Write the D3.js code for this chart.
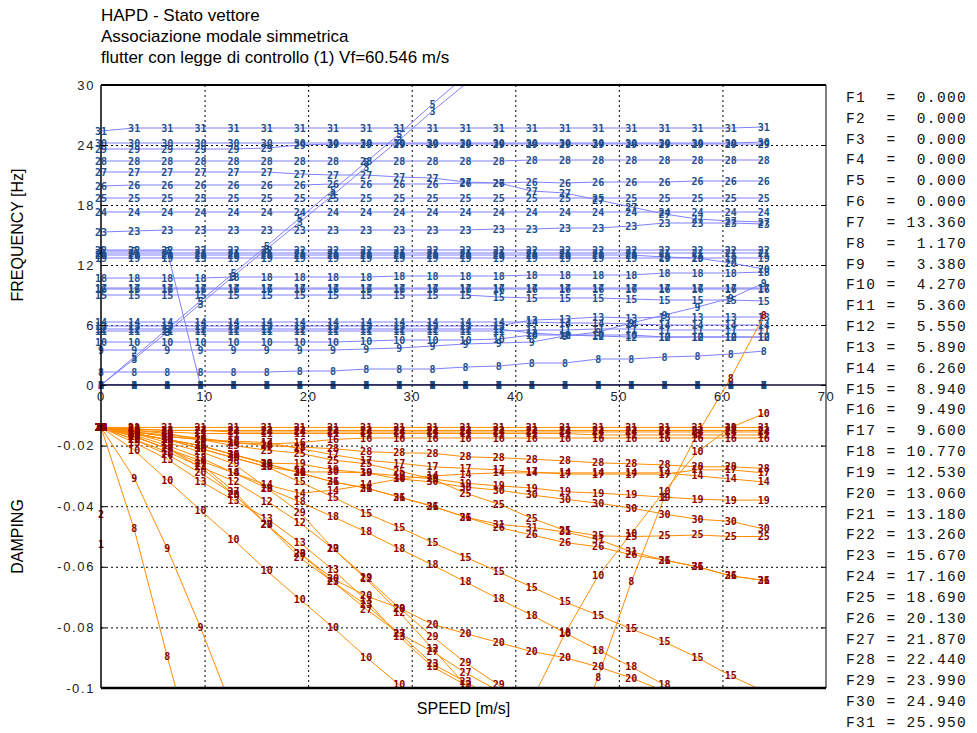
<!DOCTYPE html>
<html>
<head>
<meta charset="utf-8">
<script src="https://cdn.jsdelivr.net/npm/d3@7"></script>
<style>
  body { margin: 0; background: #fff; }
  svg { display: block; }
</style>
</head>
<body>
<svg id="chart" width="977" height="733"></svg>
<script>
// velocità (m/s)
const speeds = [0, 3.2, 6.4, 9.6, 12.8, 16, 19.2, 22.4, 25.6, 28.8, 32, 35.2, 38.4, 41.6, 44.8, 48, 51.2, 54.4, 57.6, 60.8, 64];

// FREQUENZE [Hz] per modo
const f01 = [0,0,0,0,0,0,0,0,0,0,0,0,0,0,0,0,0,0,0,0,0];
const f02 = [0,0,0,0,0,0,0,0,0,0,0,0,0,0,0,0,0,0,0,0,0];
const f03 = [0, 2.6, 5.3, 8.1, 10.9, 13.6, 16.3, 19.0, 21.8, 24.5, 27.4, 30.1, 32.8];
const f04 = [0,0,0,0,0,0,0,0,0,0,0,0,0,0,0,0,0,0,0,0,0];
const f05 = [0, 2.8, 5.6, 8.4, 11.2, 13.9, 16.7, 19.5, 22.3, 25.1, 28.1, 30.9];
const f06 = [0,0,0,0,0,0,0,0,0,0,0,0,0,0,0,0,0,0,0,0,0];
const f07 = [13.4, 13.4, 13.4, 0,0,0,0,0,0,0,0,0,0,0,0,0,0,0,0,0,0];
const f08 = [1.3, 1.3, 1.3, 1.3, 1.3, 1.3, 1.4, 1.4, 1.6, 1.6, 1.6, 1.8, 1.9, 2.2, 2.2, 2.6, 2.6, 2.8, 2.9, 3.1, 3.4];
const f09 = [3.5, 3.5, 3.5, 3.5, 3.5, 3.5, 3.5, 3.5, 3.6, 3.7, 3.9, 4.1, 4.2, 4.3, 4.9, 5.3, 6.2, 7.0, 7.8, 8.7, 10.2];
const f10 = [4.3, 4.3, 4.3, 4.3, 4.3, 4.3, 4.3, 4.3, 4.4, 4.5, 4.5, 4.5, 4.6, 5.0, 5.0, 5.0, 5.0, 4.8, 4.8, 4.8, 4.8];
const f11 = [5.4, 5.4, 5.4, 5.4, 5.4, 5.4, 5.4, 5.4, 5.4, 5.4, 5.4, 5.4, 5.4, 5.5, 5.5, 5.6, 5.6, 5.5, 5.5, 5.5, 5.5];
const f12 = [5.6, 5.6, 5.6, 5.6, 5.6, 5.6, 5.6, 5.6, 5.6, 5.6, 5.6, 5.6, 5.6, 5.2, 5.0, 4.9, 4.8, 4.8, 4.8, 4.8, 4.8];
const f13 = [5.9, 5.9, 5.9, 5.9, 5.9, 5.9, 5.9, 5.9, 5.9, 5.9, 5.9, 5.9, 5.9, 6.5, 6.6, 6.8, 6.7, 6.8, 6.8, 6.8, 6.8];
const f14 = [6.3, 6.3, 6.3, 6.3, 6.3, 6.3, 6.3, 6.3, 6.3, 6.3, 6.3, 6.3, 6.3, 6.3, 6.2, 6.2, 6.1, 6.0, 6.0, 6.0, 6.0];
const f15 = [9.0, 9.0, 9.0, 9.0, 9.0, 9.0, 9.0, 9.0, 9.0, 9.0, 9.0, 9.0, 8.8, 8.7, 8.7, 8.7, 8.6, 8.5, 8.5, 8.5, 8.4];
const f16 = [9.6, 9.6, 9.6, 9.6, 9.6, 9.6, 9.6, 9.6, 9.6, 9.6, 9.6, 9.6, 9.6, 9.6, 9.6, 9.6, 9.6, 9.6, 9.6, 9.6, 9.6];
const f17 = [9.7, 9.7, 9.7, 9.7, 9.7, 9.7, 9.7, 9.7, 9.7, 9.7, 9.7, 9.7, 9.7, 9.7, 9.7, 9.7, 9.7, 9.7, 9.7, 9.7, 9.7];
const f18 = [10.7, 10.7, 10.7, 10.7, 10.8, 10.8, 10.8, 10.8, 10.8, 10.9, 10.9, 10.9, 10.9, 11.0, 11.0, 11.0, 11.0, 11.2, 11.2, 11.2, 11.3];
const f19 = [12.7, 12.7, 12.7, 12.7, 12.7, 12.7, 12.7, 12.7, 12.7, 12.7, 12.7, 12.7, 12.7, 12.7, 12.7, 12.7, 12.7, 12.7, 12.7, 12.7, 12.7];
const f20 = [13.0, 13.0, 13.0, 13.0, 13.0, 13.0, 13.0, 13.0, 13.0, 13.0, 13.0, 13.0, 13.0, 13.0, 13.0, 13.0, 13.0, 12.8, 12.7, 12.2, 11.6];
const f21 = [13.2, 13.2, 13.2, 13.2, 13.2, 13.2, 13.2, 13.2, 13.2, 13.2, 13.2, 13.2, 13.2, 13.2, 13.2, 13.2, 13.2, 13.2, 13.2, 13.2, 13.2];
const f22 = [13.5, 13.5, 13.5, 13.5, 13.5, 13.5, 13.5, 13.5, 13.5, 13.5, 13.5, 13.5, 13.5, 13.5, 13.5, 13.5, 13.5, 13.5, 13.5, 13.5, 13.5];
const f23 = [15.3, 15.4, 15.5, 15.5, 15.5, 15.5, 15.5, 15.5, 15.5, 15.5, 15.5, 15.5, 15.6, 15.6, 15.7, 15.7, 15.9, 16.2, 16.2, 16.2, 16.1];
const f24 = [17.3, 17.3, 17.3, 17.3, 17.3, 17.3, 17.3, 17.3, 17.3, 17.3, 17.3, 17.3, 17.3, 17.3, 17.3, 17.3, 17.3, 17.3, 17.3, 17.3, 17.3];
const f25 = [18.7, 18.7, 18.7, 18.7, 18.7, 18.7, 18.7, 18.7, 18.7, 18.7, 18.7, 18.7, 18.7, 18.7, 18.7, 18.7, 18.7, 18.7, 18.7, 18.7, 18.7];
const f26 = [19.9, 20.0, 20.0, 20.0, 20.0, 20.0, 20.0, 20.1, 20.1, 20.1, 20.1, 20.2, 20.2, 20.3, 20.2, 20.3, 20.3, 20.3, 20.4, 20.4, 20.4];
const f27 = [21.3, 21.3, 21.3, 21.3, 21.3, 21.3, 21.1, 21.0, 21.0, 20.8, 20.7, 20.3, 20.2, 19.4, 19.2, 18.5, 17.8, 17.1, 16.6, 16.4, 16.3];
const f28 = [22.4, 22.4, 22.4, 22.4, 22.4, 22.4, 22.4, 22.4, 22.4, 22.4, 22.4, 22.4, 22.4, 22.5, 22.5, 22.5, 22.5, 22.5, 22.5, 22.5, 22.5];
const f29 = [23.6, 23.6, 23.6, 23.6, 23.6, 23.7, 24.0, 24.1, 24.1, 24.1, 24.1, 24.1, 24.1, 24.1, 24.1, 24.1, 24.1, 24.1, 24.1, 24.1, 24.1];
const f30 = [24.2, 24.2, 24.2, 24.2, 24.2, 24.2, 24.2, 24.2, 24.2, 24.2, 24.2, 24.2, 24.2, 24.2, 24.2, 24.2, 24.2, 24.2, 24.2, 24.2, 24.3];
const f31 = [25.4, 25.7, 25.7, 25.7, 25.7, 25.7, 25.7, 25.7, 25.7, 25.7, 25.7, 25.7, 25.7, 25.7, 25.7, 25.7, 25.7, 25.7, 25.7, 25.7, 25.8];

// SMORZAMENTI per modo (null = fuori scala)
const d01 = [-0.0528];
const d02 = [-0.0426];
const d03 = [];
const d04 = [];
const d05 = [];
const d06 = [];
const d07 = [-0.014];
const d08 = [-0.014, -0.0475, -0.0897, -0.13, null, null, null, null, null, null, null, null, null, null, -0.125, -0.0964, -0.065, -0.037, -0.016, 0.0023, 0.0228];
const d09 = [-0.014, -0.0307, -0.054, -0.080, -0.108];
const d10 = [-0.014, -0.0215, -0.0314, -0.0413, -0.051, -0.0613, -0.0707, -0.080, -0.0898, -0.099, -0.109, null, null, -0.104, -0.082, -0.063, -0.049, -0.035, -0.022, -0.014, -0.0095];
const d11 = [-0.014, -0.015, -0.0155, -0.016, -0.016, -0.016, -0.016, -0.016, -0.016, -0.016, -0.016, -0.016, -0.016, -0.016, -0.016, -0.0165, -0.0165, -0.0165, -0.0165, -0.0165, -0.0165];
const d12 = [-0.014, -0.018, -0.022, -0.027, -0.0317, -0.0383, -0.0455, -0.054, -0.064, -0.075, -0.087, -0.099, -0.112];
const d13 = [-0.014, -0.019, -0.0245, -0.0317, -0.038, -0.044, -0.052, -0.061, -0.071, -0.083, -0.093, -0.099, -0.106];
const d14 = [-0.014, -0.017, -0.021, -0.025, -0.029, -0.033, -0.0357, -0.0347, -0.033, -0.031, -0.030, -0.0294, -0.029, -0.029, -0.029, -0.029, -0.029, -0.029, -0.030, -0.031, -0.032];
const d15 = [-0.014, -0.016, -0.018, -0.021, -0.024, -0.027, -0.032, -0.037, -0.0423, -0.047, -0.052, -0.0568, -0.0617, -0.0667, -0.0716, -0.076, -0.0805, -0.0848, -0.090, -0.096, -0.101];
const d16 = [-0.014, -0.0155, -0.0165, -0.0175, -0.019, -0.0195, -0.019, -0.018, -0.0175, -0.0175, -0.0175, -0.0175, -0.0175, -0.0175, -0.0175, -0.0175, -0.0175, -0.0175, -0.0175, -0.0175, -0.0175];
const d17 = [-0.014, -0.0155, -0.017, -0.018, -0.0185, -0.019, -0.021, -0.023, -0.0248, -0.0258, -0.027, -0.0275, -0.028, -0.0287, -0.0294, -0.0294, -0.0294, -0.0294, -0.028, -0.028, -0.029];
const d18 = [-0.014, -0.0165, -0.020, -0.024, -0.029, -0.034, -0.0386, -0.0435, -0.0485, -0.054, -0.0594, -0.065, -0.0706, -0.076, -0.0818, -0.0875, -0.093, -0.099, -0.105];
const d19 = [-0.014, -0.016, -0.018, -0.020, -0.023, -0.0258, -0.026, -0.028, -0.029, -0.030, -0.031, -0.0324, -0.0333, -0.034, -0.0352, -0.0357, -0.0363, -0.037, -0.0377, -0.038, -0.038];
const d20 = [-0.014, -0.018, -0.023, -0.029, -0.036, -0.046, -0.0555, -0.064, -0.0696, -0.0736, -0.079, -0.082, -0.085, -0.088, -0.090, -0.093, -0.0967, -0.101];
const d21 = [-0.014, -0.014, -0.014, -0.014, -0.014, -0.014, -0.014, -0.014, -0.014, -0.014, -0.014, -0.014, -0.014, -0.014, -0.014, -0.014, -0.014, -0.014, -0.014, -0.014, -0.014];
const d22 = [-0.014, -0.0145, -0.015, -0.015, -0.015, -0.015, -0.015, -0.015, -0.015, -0.015, -0.015, -0.015, -0.015, -0.015, -0.015, -0.015, -0.015, -0.015, -0.015, -0.015, -0.015];
const d23 = [-0.014, -0.017, -0.021, -0.027, -0.036, -0.046, -0.0555, -0.065, -0.0726, -0.082, -0.092, -0.098, -0.104];
const d24 = [-0.014, -0.0145, -0.015, -0.015, -0.0155, -0.0155, -0.0155, -0.0155, -0.0155, -0.0155, -0.0155, -0.0155, -0.0155, -0.0155, -0.0155, -0.0155, -0.0155, -0.0155, -0.0155, -0.0155, -0.0155];
const d25 = [-0.014, -0.015, -0.016, -0.018, -0.020, -0.0215, -0.0225, -0.0248, -0.026, -0.0284, -0.031, -0.0357, -0.0393, -0.044, -0.048, -0.0498, -0.050, -0.0498, -0.0495, -0.050, -0.050];
const d26 = [-0.014, -0.016, -0.018, -0.020, -0.023, -0.026, -0.029, -0.032, -0.034, -0.037, -0.040, -0.0436, -0.047, -0.0495, -0.052, -0.0534, -0.056, -0.0578, -0.060, -0.063, -0.0645];
const d27 = [-0.014, -0.017, -0.021, -0.026, -0.035, -0.046, -0.057, -0.065, -0.074, -0.082, -0.088, -0.095, -0.101];
const d28 = [-0.014, -0.0155, -0.017, -0.018, -0.019, -0.020, -0.0205, -0.021, -0.022, -0.0224, -0.0225, -0.0237, -0.024, -0.0245, -0.025, -0.0257, -0.026, -0.0264, -0.027, -0.027, -0.0275];
const d29 = [-0.014, -0.016, -0.019, -0.022, -0.026, -0.034, -0.042, -0.054, -0.0635, -0.0736, -0.083, -0.0917, -0.099, -0.106];
const d30 = [-0.014, -0.016, -0.018, -0.021, -0.024, -0.027, -0.0287, -0.0287, -0.029, -0.031, -0.032, -0.0337, -0.0347, -0.0363, -0.0377, -0.039, -0.0406, -0.0426, -0.0443, -0.045, -0.0475];
const d31 = [-0.014, -0.016, -0.018, -0.020, -0.023, -0.026, -0.029, -0.032, -0.034, -0.037, -0.040, -0.0436, -0.046, -0.047, -0.0485, -0.051, -0.055, -0.0578, -0.060, -0.063, -0.0645];

// frequenze strutturali (legenda a destra)
const legendF = [0, 0, 0, 0, 0, 0, 13.36, 1.17, 3.38, 4.27, 5.36, 5.55, 5.89, 6.26, 8.94, 9.49, 9.60, 10.77, 12.53, 13.06, 13.18, 13.26, 15.67, 17.16, 18.69, 20.13, 21.87, 22.44, 23.99, 24.94, 25.95];

// tick
const xTicks = [0, 10, 20, 30, 40, 50, 60, 70];
const freqTicks = [0, 6, 12, 18, 24, 30];
const dampTicks = [-0.1, -0.08, -0.06, -0.04, -0.02];

const titles = ['HAPD - Stato vettore', 'Associazione modale simmetrica', 'flutter con legge di controllo (1) Vf=60.546 m/s'];

const freqModes = [f01, f02, f03, f04, f05, f06, f07, f08, f09, f10, f11, f12, f13, f14, f15, f16, f17, f18, f19, f20, f21, f22, f23, f24, f25, f26, f27, f28, f29, f30, f31];
const dampModes = [d01, d02, d03, d04, d05, d06, d07, d08, d09, d10, d11, d12, d13, d14, d15, d16, d17, d18, d19, d20, d21, d22, d23, d24, d25, d26, d27, d28, d29, d30, d31];

const svg = d3.select('#chart');

const L = 101, R = 826, T = 85, MID = 385, B = 688;
const x = d3.scaleLinear().domain([0, 70]).range([L, R]);
const yF = d3.scaleLinear().domain([0, 30]).range([MID, T]);
const yD = d3.scaleLinear().domain([-0.1, 0]).range([B, MID]);

const defs = svg.append('defs');
defs.append('clipPath').attr('id', 'clipF')
    .append('rect').attr('x', L).attr('y', T).attr('width', R - L).attr('height', MID - T);
defs.append('clipPath').attr('id', 'clipD')
    .append('rect').attr('x', L).attr('y', T).attr('width', R - L).attr('height', B - T);

// griglia tratteggiata
function gridStyle(g) {
    g.select('.domain').remove();
    g.selectAll('text').remove();
    g.selectAll('line').attr('stroke', '#000').attr('stroke-width', 1).attr('stroke-dasharray', '2,3');
}
svg.append('g').attr('transform', `translate(0,${T})`)
    .call(d3.axisTop(x).tickValues(xTicks.slice(1, -1)).tickSize(-(B - T)))
    .call(gridStyle);
svg.append('g').attr('transform', `translate(${L},0)`)
    .call(d3.axisLeft(yF).tickValues([6, 12, 18, 24]).tickSize(-(R - L)))
    .call(gridStyle);
svg.append('g').attr('transform', `translate(${L},0)`)
    .call(d3.axisLeft(yD).tickValues([-0.08, -0.06, -0.04, -0.02]).tickSize(-(R - L)))
    .call(gridStyle);

// curve
const labelFont = "'DejaVu Sans Mono', monospace";

function drawModes(modes, yScale, clipId, lineColor, textColor, inRange) {
    const g = svg.append('g').attr('clip-path', `url(#${clipId})`);
    const line = d3.line()
        .defined(d => d[1] != null)
        .x(d => x(d[0]))
        .y(d => yScale(d[1]));
    modes.forEach((vals) => {
        const pts = speeds.map((s, j) => [s, vals[j]]);
        g.append('path')
            .attr('d', line(pts))
            .attr('fill', 'none')
            .attr('stroke', lineColor)
            .attr('stroke-width', 1);
    });
    const gt = svg.append('g')
        .attr('font-family', labelFont)
        .attr('font-size', 10)
        .attr('font-weight', 'bold')
        .attr('fill', textColor)
        .attr('text-anchor', 'middle');
    modes.forEach((vals, i) => {
        speeds.forEach((s, j) => {
            const v = vals[j];
            if (v == null || !inRange(v)) return;
            gt.append('text')
                .attr('x', x(s))
                .attr('y', yScale(v))
                .attr('dy', '0.35em')
                .text(i + 1);
        });
    });
}

drawModes(freqModes, yF, 'clipF', '#8080ff', '#1d4e8a', v => v >= 0 && v <= 30);
drawModes(dampModes, yD, 'clipD', '#ff8c00', '#8b0000', v => v >= -0.1 && v <= 0.03);

// assi e cornici
const frame = svg.append('g').attr('stroke', '#000').attr('fill', 'none');
frame.append('line').attr('x1', L).attr('x2', R).attr('y1', T).attr('y2', T).attr('stroke-width', 2);
frame.append('line').attr('x1', R).attr('x2', R).attr('y1', T).attr('y2', B).attr('stroke-width', 1);
frame.append('line').attr('x1', L).attr('x2', L).attr('y1', T).attr('y2', B).attr('stroke-width', 1.5);
frame.append('line').attr('x1', L).attr('x2', R).attr('y1', MID).attr('y2', MID).attr('stroke-width', 1.5).attr('stroke', '#111133');
frame.append('line').attr('x1', L).attr('x2', R).attr('y1', B).attr('y2', B).attr('stroke-width', 2.5);

const tickFont = "'Liberation Sans', Arial, sans-serif";
function tickStyle(g) {
    g.select('.domain').remove();
    g.selectAll('line').attr('stroke', '#000');
    g.selectAll('text')
        .attr('font-family', tickFont)
        .attr('font-size', 13)
        .attr('letter-spacing', '1.6px')
        .attr('fill', '#222');
}

svg.append('g').attr('transform', `translate(${L},0)`)
    .call(d3.axisLeft(yF).tickValues(freqTicks).tickSizeInner(-5).tickSizeOuter(0).tickPadding(6).tickFormat(d3.format('d')))
    .call(tickStyle);
svg.append('g').attr('transform', `translate(${L},0)`)
    .call(d3.axisLeft(yD).tickValues(dampTicks).tickSizeInner(-5).tickSizeOuter(0).tickPadding(6).tickFormat(d => String(d)))
    .call(tickStyle);
svg.append('g').attr('transform', `translate(${R},0)`)
    .call(d3.axisRight(yF).tickValues(freqTicks).tickSizeInner(-5).tickSizeOuter(0).tickFormat(''))
    .call(tickStyle);
svg.append('g').attr('transform', `translate(${R},0)`)
    .call(d3.axisRight(yD).tickValues(dampTicks).tickSizeInner(-5).tickSizeOuter(0).tickFormat(''))
    .call(tickStyle);
svg.append('g').attr('transform', `translate(0,${MID})`)
    .call(d3.axisBottom(x).tickValues(xTicks).tickSizeInner(0).tickSizeOuter(0).tickPadding(7))
    .call(tickStyle);

// titoli
const textFont = "'Liberation Sans', Arial, sans-serif";
svg.append('g').selectAll('text').data(titles).join('text')
    .attr('x', L)
    .attr('y', (d, i) => 21 + i * 21)
    .attr('font-family', textFont)
    .attr('font-size', 17)
    .attr('fill', '#000')
    .text(d => d);

svg.append('text')
    .attr('transform', `translate(23,${(T + MID) / 2}) rotate(-90)`)
    .attr('text-anchor', 'middle')
    .attr('font-family', textFont).attr('font-size', 16)
    .text('FREQUENCY [Hz]');
svg.append('text')
    .attr('transform', `translate(23,${(MID + B) / 2}) rotate(-90)`)
    .attr('text-anchor', 'middle')
    .attr('font-family', textFont).attr('font-size', 16)
    .text('DAMPING');
svg.append('text')
    .attr('x', (L + R) / 2)
    .attr('y', 714)
    .attr('text-anchor', 'middle')
    .attr('font-family', textFont).attr('font-size', 16)
    .text('SPEED [m/s]');

// legenda frequenze
svg.append('g').selectAll('text').data(legendF).join('text')
    .attr('x', 846)
    .attr('y', (d, i) => 102 + i * 20.83)
    .attr('font-family', "'Liberation Mono', 'Courier New', monospace")
    .attr('font-size', 14.5)
    .attr('letter-spacing', '1.4px')
    .style('white-space', 'pre')
    .attr('fill', '#111')
    .text((d, i) => `F${i + 1}`.padEnd(4) + '= ' + d.toFixed(3).padStart(6));
</script>
</body>
</html>
